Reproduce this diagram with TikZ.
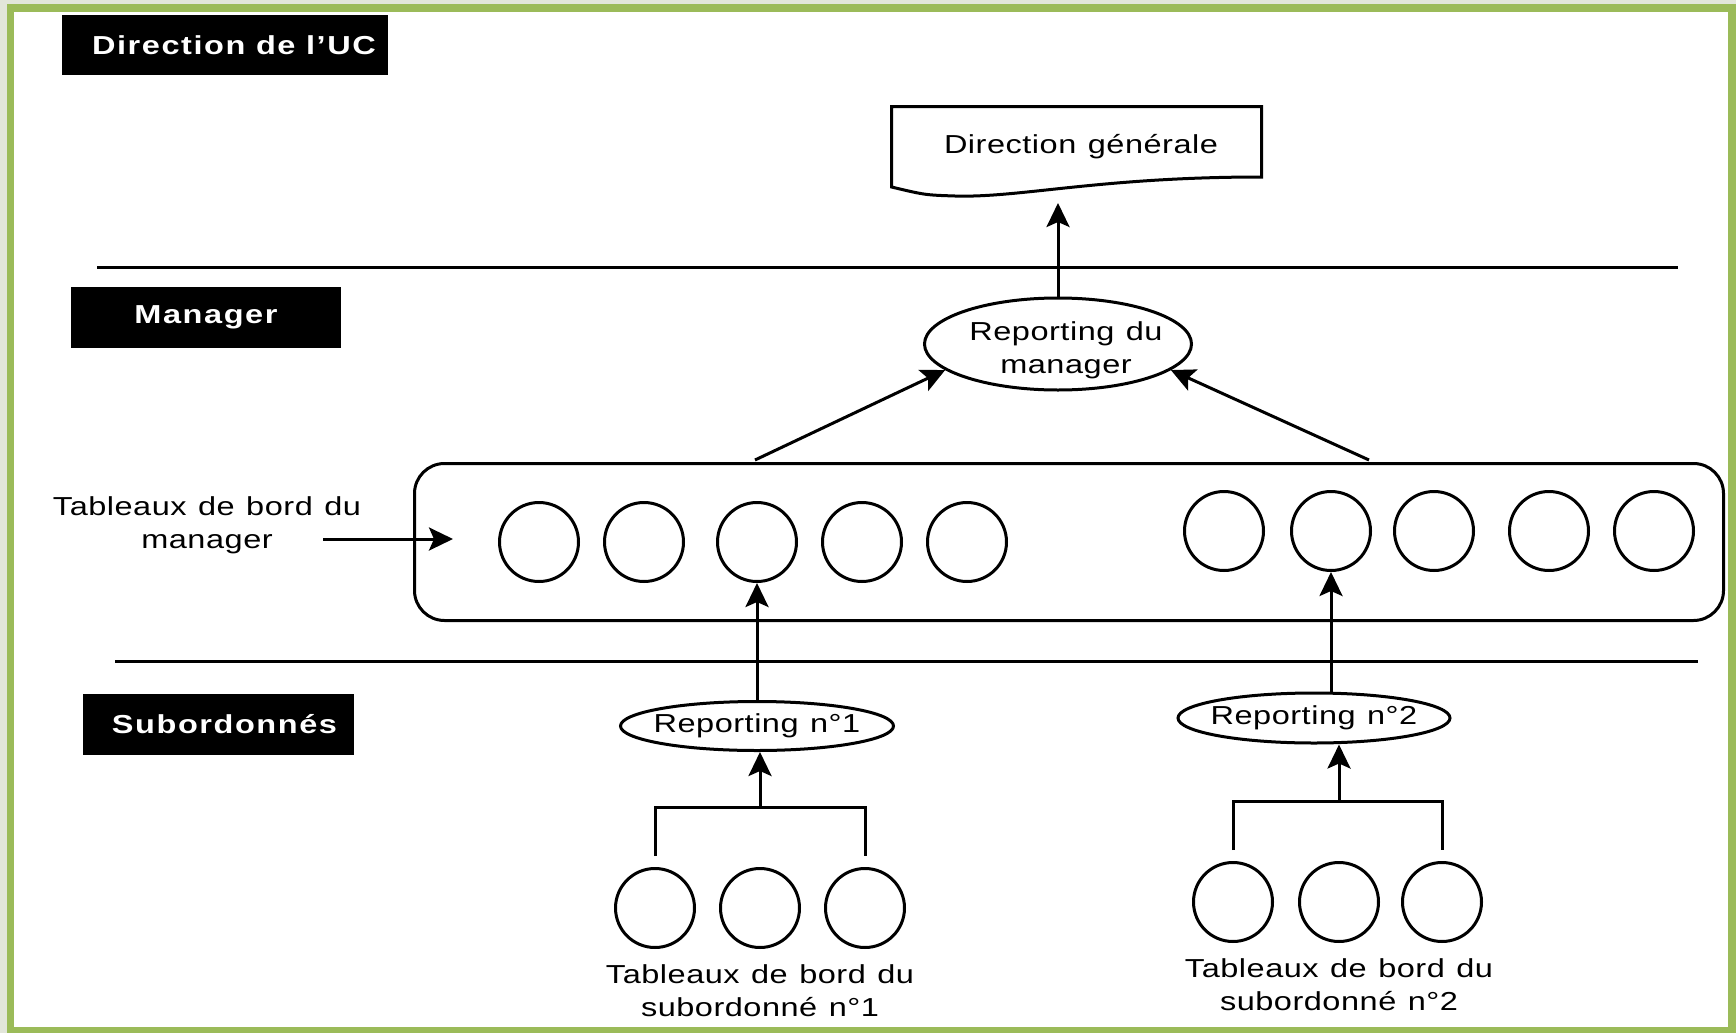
\documentclass[tikz,border=0pt]{standalone}
\usepackage{fontspec}
\setmainfont{Liberation Sans}
\newfontfamily\plainfont[FakeStretch=1.25,LetterSpace=2,WordSpace=1.2]{Liberation Sans}
\newfontfamily\bandfont[FakeStretch=1.25,LetterSpace=6]{Liberation Sans}
\usetikzlibrary{shapes.geometric,arrows.meta,positioning,calc}
\definecolor{frame}{RGB}{155,187,89}
\definecolor{outside}{RGB}{226,230,218}
\tikzset{
	band/.style={fill=black,text=white,font=\bandfont\bfseries\fontsize{13}{15}\selectfont,inner sep=0pt},
	lbl/.style={align=center,font=\plainfont\fontsize{13}{16.5}\selectfont,inner sep=0pt},
	tab/.style={draw,circle,line width=1.5pt,minimum size=39.5pt,inner sep=0pt},
	rep/.style={draw,ellipse,line width=1.5pt,lbl,inner xsep=-20pt,inner ysep=-5pt},
	arr/.style={-{Stealth[length=12pt,width=11.5pt,inset=2.5pt]},line width=1.5pt},
	rule/.style={line width=1.5pt}
}
\begin{document}
\begin{tikzpicture}[x=0.5pt,y=-0.5pt]
	\useasboundingbox (0,0) rectangle (1736,1033);
	\clip (0,0) rectangle (1736,1033);
	\fill[outside] (0,0) rectangle (1736,1033);
	\draw[frame,line width=3.75pt,fill=white] (10.5,8) rectangle (1732,1030.5);
	% levels
	\node[band,minimum width=163pt,minimum height=30pt] (uc) at (225,45) {\hspace{9pt}Direction de l’UC};
	\node[band,minimum width=135pt,minimum height=30.5pt] (mgr) at (206,317.5) {Manager\hspace{8pt}};
	\node[band,minimum width=135.5pt,minimum height=30.5pt] (sub) at (218.5,724.5) {\hspace{6pt}Subordonnés};
	\draw[rule] (97,267) -- (1678,267);
	\draw[rule] (115,661) -- (1698,661);
	% direction generale
	\node[lbl] (dg) at (1081,147) {Direction générale};
	\draw[rule] (891.5,106.5) -- (1261.5,106.5) -- (1261.5,177) .. controls (1100,177) and (1020,198) .. (955,196) .. controls (925,195) .. (891.5,187) -- cycle;
	\coordinate (dgb) at (1058,203);
	\node[rep,text height=29pt,text depth=0pt,minimum width=133.5pt,minimum height=46pt] (rm) at (1058,344) {\hspace{8pt}Reporting du\\\hspace{8pt}manager};
	\draw[arr] (rm) -- (dgb);
	% tableaux du manager
	\node[draw,rounded corners=15pt,line width=1.5pt,minimum width=654.5pt,minimum height=78.5pt] (tbm) at (1069,542) {};
	\foreach \n/\x/\y in {1/539/542,2/644/542,3/757/542,4/862/542,5/967/542,6/1224/531,7/1331/531,8/1434/531,9/1549/531,10/1654/531}
		\node[tab] (m\n) at (\x,\y) {};
	\coordinate (ga) at (755,460);
	\coordinate (dr) at (1369,460);
	\draw[arr] (ga) -- (rm.193);
	\draw[arr] (dr) -- (rm.347);
	\node[lbl] (tm) at (207,525) {Tableaux de bord du\\manager};
	\coordinate (ta) at (323,539);
	\draw[arr] (ta) -- ($(tbm.west |- ta)+(40,0)$);
	% reportings
	\node[rep,minimum width=136.5pt,minimum height=24.5pt] (r1) at (757,726) {Reporting n°1};
	\node[rep,minimum width=136pt,minimum height=25pt] (r2) at (1314,718) {Reporting n°2};
	\draw[arr] (r1) -- (m3);
	\draw[arr] (r2.north -| m7) -- (m7);
	% tableaux des subordonnes
	\foreach \n/\x/\y in {1/655/908,2/760/908,3/865/908,4/1233/902,5/1339/902,6/1442/902}
		\node[tab] (s\n) at (\x,\y) {};
	\coordinate (j1) at ([yshift=30pt]s2.north);
	\coordinate (j2) at ([yshift=30pt]s5.north);
	\draw[rule] ([yshift=5.5pt]s1.north) |- (j1) -| ([yshift=5.5pt]s3.north);
	\draw[rule] ([yshift=5.5pt]s4.north) |- (j2) -| ([yshift=5.5pt]s6.north);
	\draw[arr] (j1) -- (j1 |- r1.south);
	\draw[arr] (j2) -- (j2 |- r2.south);
	\node[lbl,below=7.5pt of s2] (t1) {Tableaux de bord du\\subordonné n°1};
	\node[lbl,below=7.5pt of s5] (t2) {Tableaux de bord du\\subordonné n°2};
\end{tikzpicture}
\end{document}
